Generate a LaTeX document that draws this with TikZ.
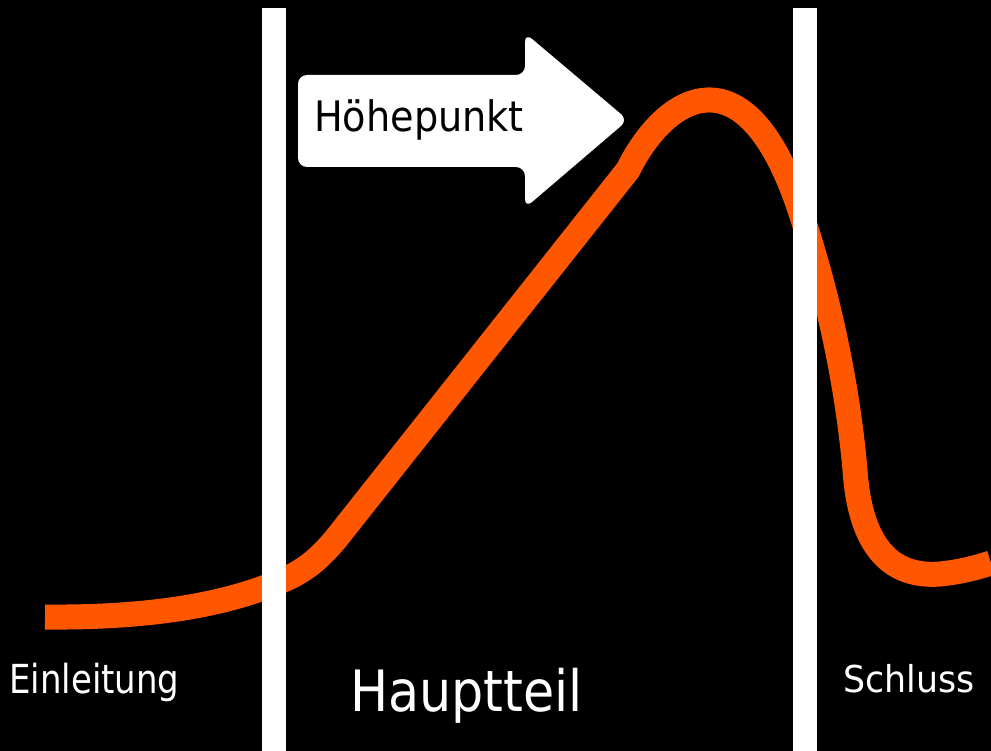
\documentclass[tikz,border=0pt]{standalone}
\usepackage{fontspec}
\setmainfont{DejaVu Sans}
\definecolor{curveorange}{RGB}{255,87,0}
\tikzset{
  divider/.style={white, line width=24pt},
  storyline/.style={curveorange, line width=25pt, line cap=butt, line join=round},
  label/.style={white, inner sep=0pt, anchor=base west},
}
\begin{document}
\begin{tikzpicture}[x=1pt,y=-1pt]
\fill[black] (0,0) rectangle (991,751);
\useasboundingbox (0,0) rectangle (991,751);
% curve
\draw[storyline] (45,617) .. controls (150,618) and (230,605) .. (290,577)
  .. controls (310,567) and (322,555) .. (335,540) -- (628,170)
  .. controls (665,95) and (745,45) .. (800,210)
  .. controls (830,300) and (848,390) .. (855,470)
  .. controls (860,545) and (890,578) .. (940,574)
  .. controls (960,572) and (975,568) .. (991,563);
% dividers
\draw[divider] (273.5,8) -- (273.5,751);
\draw[divider] (804.5,8) -- (804.5,751);
% arrow
\fill[white, rounded corners=9pt] (298,167) -- (298,75) -- (525,75) -- (525,33) -- (628,120) -- (525,208) -- (525,167) -- cycle;
\node[label, black, xscale=0.91, font=\fontsize{42}{50}\selectfont] (peak) at (314,132) {Höhepunkt};
% labels
\node[label, xscale=0.85, font=\fontsize{40}{48}\selectfont] (intro) at (9,693) {Einleitung};
\node[label, xscale=0.89, font=\fontsize{57}{68}\selectfont] (main) at (350,711) {Hauptteil};
\node[label, xscale=0.94, font=\fontsize{37}{44}\selectfont] (outro) at (843,692) {Schluss};
\end{tikzpicture}
\end{document}
